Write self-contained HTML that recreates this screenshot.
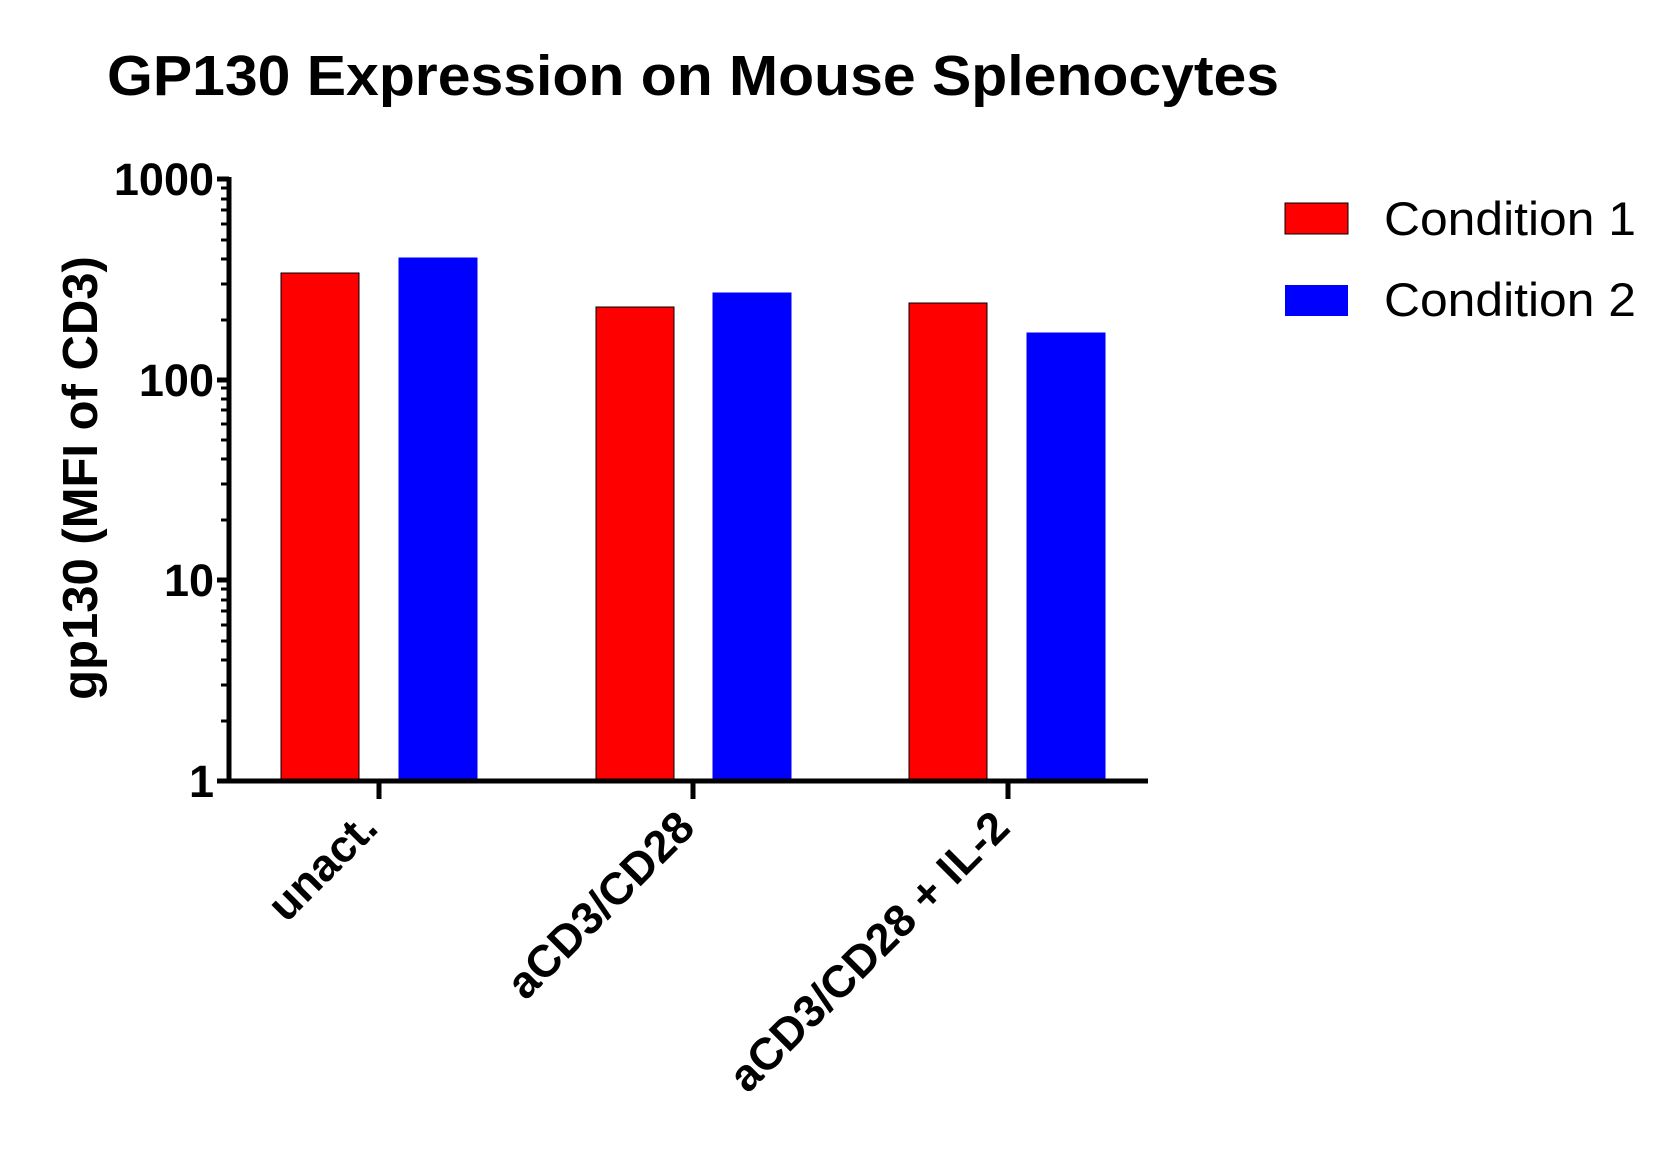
<!DOCTYPE html>
<html><head><style>html,body{margin:0;padding:0;background:#fff}</style></head>
<body>
<svg width="1674" height="1152" xmlns="http://www.w3.org/2000/svg" font-family="Liberation Sans, Arial, sans-serif">
<rect width="1674" height="1152" fill="#fff"/>
<text x="107" y="95" font-size="57" font-weight="bold" textLength="1172" lengthAdjust="spacingAndGlyphs">GP130 Expression on Mouse Splenocytes</text>
<text transform="translate(97,478) rotate(-90)" text-anchor="middle" font-size="49" font-weight="bold">gp130 (MFI of CD3)</text>
<g font-size="45" font-weight="bold" text-anchor="end">
<text x="214" y="195">1000</text>
<text x="214" y="396">100</text>
<text x="214" y="596">10</text>
<text x="214" y="797">1</text>
</g>
<g stroke="#000" stroke-width="1">
<rect x="281" y="273" width="78" height="508" fill="#ff0000"/>
<rect x="399" y="258" width="78" height="523" fill="#0000ff" stroke="#0000ff"/>
<rect x="596" y="307" width="78" height="474" fill="#ff0000"/>
<rect x="713" y="293" width="78" height="488" fill="#0000ff" stroke="#0000ff"/>
<rect x="909" y="303" width="78" height="478" fill="#ff0000"/>
<rect x="1027" y="333" width="78" height="448" fill="#0000ff" stroke="#0000ff"/>
</g>
<g stroke="#000" stroke-width="5">
<line x1="229" y1="177" x2="229" y2="783"/>
<line x1="227" y1="781" x2="1148" y2="781"/>
<line x1="217" y1="179" x2="229" y2="179"/>
<line x1="217" y1="380" x2="229" y2="380"/>
<line x1="217" y1="580" x2="229" y2="580"/>
<line x1="217" y1="781" x2="229" y2="781"/>
<line x1="379" y1="781" x2="379" y2="799"/>
<line x1="693" y1="781" x2="693" y2="799"/>
<line x1="1008" y1="781" x2="1008" y2="799"/>
</g>
<g stroke="#000" stroke-width="3">
<path d="M221 721H229M221 685H229M221 660H229M221 641H229M221 625H229M221 611H229M221 600H229M221 589H229
M221 520H229M221 484H229M221 459H229M221 440H229M221 424H229M221 410H229M221 399H229M221 388H229
M221 320H229M221 284H229M221 259H229M221 240H229M221 224H229M221 210H229M221 199H229M221 188H229"/>
</g>
<g font-size="45" font-weight="bold" text-anchor="end">
<text transform="translate(380,830) rotate(-45)">unact.</text>
<text transform="translate(697,830) rotate(-45)">aCD3/CD28</text>
<text transform="translate(1012,830) rotate(-45)">aCD3/CD28 + IL-2</text>
</g>
<rect x="1285" y="203" width="63" height="31" fill="#ff0000" stroke="#000" stroke-width="1"/>
<rect x="1285" y="285" width="63" height="31" fill="#0000ff"/>
<text x="1384" y="235" font-size="47" textLength="252" lengthAdjust="spacingAndGlyphs">Condition 1</text>
<text x="1384" y="316" font-size="47" textLength="252" lengthAdjust="spacingAndGlyphs">Condition 2</text>
</svg>
</body></html>
